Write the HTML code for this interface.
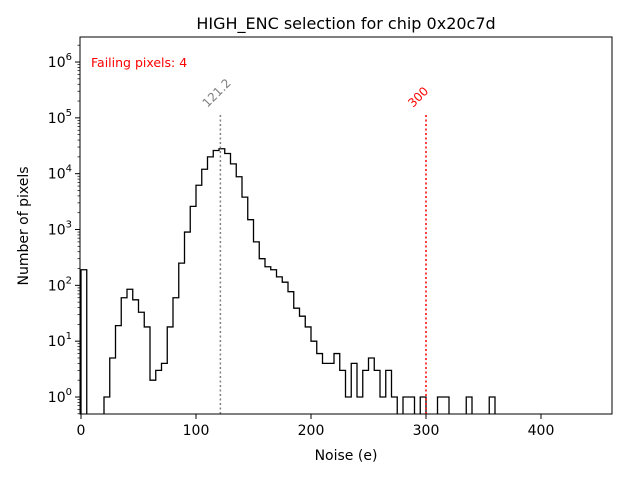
<!DOCTYPE html>
<html><head><meta charset="utf-8"><style>
body{margin:0;background:#fff;}
svg text{font-family:"DejaVu Sans","Liberation Sans",sans-serif;}
</style></head><body>
<svg id="chart" width="640" height="480" viewBox="0 0 640 480" xmlns="http://www.w3.org/2000/svg">
<rect width="640" height="480" fill="#fff"/>
<defs><clipPath id="plotclip"><rect x="80" y="37" width="532" height="377"/></clipPath></defs>
<text x="346" y="29" font-size="16" text-anchor="middle">HIGH_ENC selection for chip 0x20c7d</text>
<g id="marks" clip-path="url(#plotclip)"></g>
<g id="axes"></g>
<text x="346" y="460" font-size="14" text-anchor="middle">Noise (e)</text>
<text transform="translate(28,226) rotate(-90)" font-size="14" text-anchor="middle">Number of pixels</text>
<text x="91" y="67" font-size="12.5" fill="#ff0000">Failing pixels: 4</text>
</svg>
<script>
const binStart = 0;
const binWidth = 5;
const counts = [190,0,0,0,1,5,19,60,85,55,33,18,2,3,4,18,60,250,900,2600,6200,12000,20000,26000,28000,23000,15000,8800,3800,1500,600,300,215,190,142,114,77,39,28,18,10,6,4,4,6,3,1,4,1,3,5,3,1,3,1,0,1,1,0,1,0,0,1,1,0,0,0,1,0,0,0,1,0];
const meanValue = 121.2;
const cutValue = 300;
const xTicks = [0,100,200,300,400];
const yTickExps = [0,1,2,3,4,5,6];

const X0=81, XS=1.15, Y0=397, YS=55.83, BOTTOM=414, TOP=37, LEFT=80, RIGHT=612;
const px = v => X0 + v*XS;
const py = v => v>0 ? Y0 - Math.log10(v)*YS : BOTTOM+20;
const NS="http://www.w3.org/2000/svg";
const marks=document.getElementById('marks'), axes=document.getElementById('axes');
function mk(tag, attrs, parent){const e=document.createElementNS(NS,tag);for(const k in attrs)e.setAttribute(k,attrs[k]);parent.appendChild(e);return e;}

let d=`M${px(binStart)},${BOTTOM+20}`;
counts.forEach((c,i)=>{const xa=px(binStart+i*binWidth), xb=px(binStart+(i+1)*binWidth);d+=` L${xa},${py(c)} L${xb},${py(c)}`;});
d+=` L${px(binStart+counts.length*binWidth)},${BOTTOM+20}`;
const hist=mk('path',{d:d,fill:'none',stroke:'#000','stroke-width':1.3},marks);



const lineTop = py(Math.pow(10,5.05));
const ml=mk('line',{x1:px(meanValue),x2:px(meanValue),y1:lineTop,y2:BOTTOM,stroke:'#808080','stroke-width':1.5,'stroke-dasharray':'2,2.5'},marks);


const cl=mk('line',{x1:px(cutValue),x2:px(cutValue),y1:lineTop,y2:BOTTOM,stroke:'#ff0000','stroke-width':1.5,'stroke-dasharray':'2,2.5'},marks);



const mt=mk('text',{transform:`translate(${px(meanValue)-13},${lineTop-7}) rotate(-45)`,'font-size':12,fill:'#808080'},axes);
mt.textContent=meanValue.toFixed(1);


const ct=mk('text',{transform:`translate(${px(cutValue)-13},${lineTop-7}) rotate(-45)`,'font-size':12,fill:'#ff0000'},axes);
ct.textContent=String(cutValue);



const frame=mk('rect',{x:LEFT,y:TOP,width:RIGHT-LEFT,height:BOTTOM-TOP,fill:'none',stroke:'#000','stroke-width':1},axes);



xTicks.forEach(t=>{
  const x=px(t);
  mk('line',{x1:x,x2:x,y1:BOTTOM,y2:BOTTOM+5,stroke:'#000'},axes);
  const tx=mk('text',{x:x,y:BOTTOM+21,'font-size':14,'text-anchor':'middle'},axes);
  tx.textContent=t;
  
  
});
yTickExps.forEach(e=>{
  const y=py(Math.pow(10,e));
  mk('line',{x1:LEFT-5,x2:LEFT,y1:y,y2:y,stroke:'#000'},axes);
  const tx=mk('text',{x:LEFT-8,y:y+5,'font-size':14,'text-anchor':'end'},axes);
  tx.innerHTML=`10<tspan font-size="10" dy="-7">${e}</tspan>`;
  
  
});
for(let e=-1;e<=6;e++){for(let m=2;m<=9;m++){const y=py(m*Math.pow(10,e));if(y<TOP||y>BOTTOM)continue;mk('line',{x1:LEFT-2.5,x2:LEFT,y1:y,y2:y,stroke:'#000','stroke-width':0.7},axes);}}
</script>
</body></html>
